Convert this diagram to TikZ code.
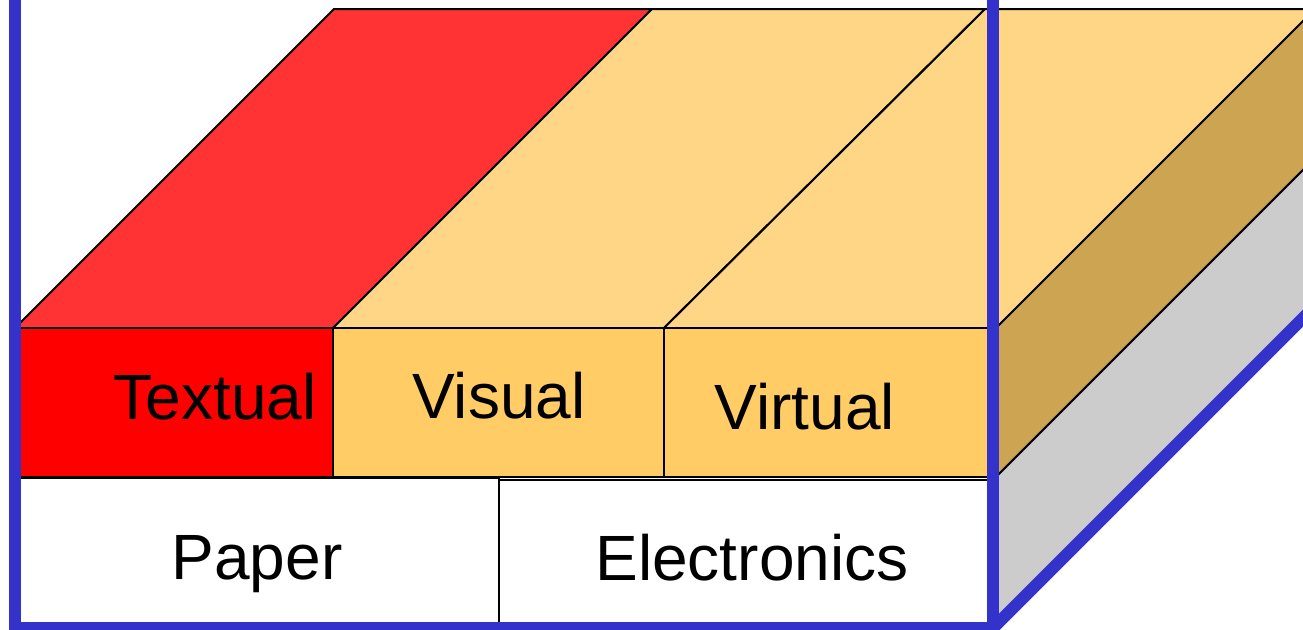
\documentclass[tikz,border=0pt]{standalone}
\usepackage{fontspec}
\setmainfont{Liberation Sans}
\definecolor{redfront}{RGB}{255,0,0}
\definecolor{redtop}{RGB}{255,51,51}
\definecolor{ortop}{RGB}{254,214,134}
\definecolor{orfront}{RGB}{255,204,102}
\definecolor{tanside}{RGB}{205,164,82}
\definecolor{grayside}{RGB}{204,204,204}
\definecolor{frameblue}{RGB}{51,51,204}
\tikzset{
  face/.style={draw=black, line width=1pt, line join=miter},
  lbl/.style={anchor=base, inner sep=0pt, font=\fontsize{32}{36}\selectfont},
  frame/.style={draw=frameblue, line width=6pt, line join=miter}
}
\begin{document}
\begin{tikzpicture}[x=0.5pt, y=-0.5pt]
\useasboundingbox (0,0) rectangle (1303,629);
\clip (0,0) rectangle (1303,629);
% top faces
\path[face, fill=redtop] (15,328) -- (334,9) -- (652,9) -- (333,328) -- cycle;
\path[face, fill=ortop] (333,328) -- (652,9) -- (985,9) -- (664,328) -- cycle;
\path[face, fill=ortop] (664,328) -- (985,9) -- (1330,9) -- (996,328) -- cycle;
% side faces
\path[face, fill=tanside] (996,328) -- (1330,-6) -- (1330,143) -- (996,477) -- cycle;
\path[fill=grayside] (996,477) -- (1330,143) -- (1330,300) -- (993,628) -- cycle;
\draw[face] (996,477) -- (1330,143);
% front faces
\path[face, fill=redfront] (15,328) rectangle (333,477);
\path[face, fill=orfront] (333,328) rectangle (664,477);
\path[face, fill=orfront] (664,328) rectangle (996,477);
% bottom slabs
\path[face, fill=white] (15,478) rectangle (499,628);
\path[face, fill=white] (499,480) rectangle (990,628);
% labels
\node[lbl] (textual) at (215,419) {Textual};
\node[lbl] (visual) at (499,418) {Visual};
\node[lbl] (virtual) at (805,429) {Virtual};
\node[lbl] (paper) at (257,579) {Paper};
\node[lbl] (electronics) at (752,580) {Electronics};
% blue frame
\coordinate (fa) at (15,-20);
\coordinate (fb) at (15,628);
\coordinate (fc) at (993,628);
\coordinate (fd) at (993,-20);
\coordinate (fe) at (1330,291);
\draw[frame] (fa) -- (fb) -- (fc) -- (fd);
\draw[frame] (fc) -- (fe);
\end{tikzpicture}
\end{document}
